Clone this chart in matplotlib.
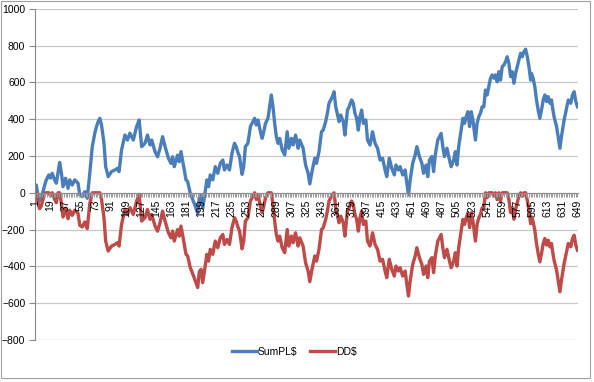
import matplotlib
matplotlib.use('Agg')
import matplotlib.pyplot as plt
from matplotlib.lines import Line2D
from matplotlib.patches import Rectangle

plt.rcParams.update({
    'font.family': 'Liberation Sans',
    'font.size': 7.5,
})

# ── Datos (categoría → valor) ─────────────────────────────────────────────────
CATS = [1, 2, 4, 6, 8, 10, 12, 14, 17, 19, 21, 24, 26, 28, 30, 32, 34, 37, 40,
        42, 45, 48, 52, 54, 57, 60, 63, 66, 69, 72, 74, 76, 78, 80, 83, 85, 88,
        92, 96, 99, 101, 104, 108, 111, 114, 118, 122, 125, 128, 132, 135, 138,
        140, 144, 147, 150, 153, 156, 160, 163, 165, 167, 171, 173, 175, 179,
        181, 183, 186, 189, 192, 195, 197, 199, 201, 204, 206, 208, 210, 213,
        216, 219, 222, 225, 227, 230, 233, 236, 239, 241, 243, 245, 248, 250,
        252, 255, 258, 260, 263, 265, 267, 270, 272, 274, 276, 279, 281, 283,
        285, 287, 289, 291, 293, 296, 299, 302, 304, 307, 309, 312, 315, 317,
        321, 324, 327, 329, 332, 335, 337, 340, 343, 345, 348, 350, 352, 356,
        358, 360, 364, 366, 369, 371, 374, 376, 379, 381, 383, 385, 387, 389,
        391, 393, 396, 398, 401, 404, 407, 410, 413, 416, 419, 421, 424, 427,
        430, 432, 435, 437, 440, 443, 445, 447, 449, 452, 455, 457, 460, 463,
        465, 468, 470, 472, 475, 477, 479, 482, 484, 486, 488, 490, 493, 496,
        498, 501, 503, 505, 507, 510, 512, 514, 516, 518, 520, 522, 524, 527,
        529, 531, 533, 535, 537, 539, 541, 543, 545, 547, 549, 551, 553, 555,
        557, 559, 561, 563, 565, 567, 569, 571, 573, 575, 577, 579, 581, 583,
        585, 587, 589, 591, 593, 594, 596, 598, 600, 602, 604, 606, 608, 610,
        612, 614, 616, 618, 619, 621, 624, 626, 628, 630, 633, 636, 638, 641,
        643, 645, 647, 649]

SUM_PL = [30, 42, -10, -45, -30, 6, 40, 70, 97, 80, 106, 70, 52, 110, 165, 110,
          33, 79, 24, 70, 42, 70, 52, -12, -21, 6, -30, 106, 251, 324, 360, 387,
          405, 370, 269, 142, 88, 115, 124, 133, 115, 233, 314, 287, 324, 287,
          360, 396, 251, 269, 314, 260, 287, 224, 196, 242, 305, 251, 188, 160,
          196, 142, 205, 169, 224, 124, 70, 61, 0, -36, -72, -111, -23, -12,
          -84, 6, 70, 33, 97, 70, 142, 106, 160, 178, 124, 151, 124, 215, 269,
          251, 220, 197, 100, 142, 251, 269, 360, 378, 405, 369, 396, 332, 296,
          332, 378, 405, 468, 532, 468, 378, 305, 269, 296, 233, 206, 332, 242,
          296, 260, 314, 242, 287, 242, 151, 106, 48, 124, 188, 160, 223, 332,
          341, 387, 432, 487, 523, 550, 468, 387, 423, 387, 314, 450, 468, 505,
          487, 432, 405, 341, 414, 450, 378, 396, 287, 260, 332, 269, 242, 178,
          188, 124, 88, 188, 133, 97, 151, 124, 142, 97, 124, 52, -12, 70, 160,
          206, 251, 197, 160, 106, 151, 88, 178, 197, 115, 206, 287, 305, 323,
          251, 197, 242, 178, 142, 178, 224, 151, 251, 342, 405, 378, 414, 441,
          360, 441, 396, 287, 378, 414, 432, 468, 468, 559, 532, 577, 623, 641,
          623, 641, 604, 659, 613, 686, 695, 713, 740, 704, 632, 659, 596, 650,
          686, 722, 759, 740, 768, 781, 740, 686, 613, 650, 623, 577, 505, 450,
          405, 450, 505, 532, 496, 523, 487, 505, 468, 414, 360, 300, 242, 310,
          396, 460, 505, 487, 532, 550, 496, 468]

DD = [0, 0, -52, -87, -72, -36, -2, 0, 0, -17, 0, -36, -54, 0, 0, -55, -132,
      -86, -141, -95, -123, -95, -113, -177, -186, -159, -195, -59, 0, 0, 0,
      0, 0, -35, -136, -263, -317, -290, -281, -272, -290, -172, -91, -118,
      -81, -118, -45, -9, -154, -136, -91, -145, -118, -181, -209, -163, -100,
      -154, -217, -245, -209, -263, -200, -236, -181, -281, -335, -344, -405,
      -441, -477, -516, -428, -417, -489, -399, -335, -372, -308, -335, -263,
      -299, -245, -227, -281, -254, -281, -190, -136, -154, -185, -208, -305,
      -263, -154, -136, -45, -27, 0, -36, -9, -73, -109, -73, -27, 0, 0, 0,
      -64, -154, -227, -263, -236, -299, -326, -200, -290, -236, -272, -218,
      -290, -245, -290, -381, -426, -484, -408, -344, -372, -309, -200, -191,
      -145, -100, -45, -9, 0, -82, -163, -127, -163, -236, -100, -82, -45,
      -63, -118, -145, -209, -136, -100, -172, -154, -263, -290, -218, -281,
      -308, -372, -362, -426, -462, -362, -417, -453, -399, -426, -408, -453,
      -426, -498, -562, -480, -390, -344, -299, -353, -390, -444, -399, -462,
      -372, -353, -435, -344, -263, -245, -227, -299, -353, -308, -372, -408,
      -372, -326, -399, -299, -208, -145, -172, -136, -109, -190, -109, -154,
      -263, -172, -136, -118, -82, -82, 0, -27, 0, 0, 0, -18, 0, -37, 0, -46,
      0, 0, 0, 0, -36, -108, -81, -144, -90, -54, -18, 0, -19, 0, 0, -41, -95,
      -168, -131, -158, -204, -276, -331, -376, -331, -276, -249, -285, -258,
      -294, -276, -313, -367, -421, -481, -539, -471, -385, -321, -276, -294,
      -249, -231, -285, -313]

N_CATS = 649
SERIES = ["SumPL$", "DD$"]
COLORS = {"SumPL$": "#4A7EBB", "DD$": "#BE4B48"}
Y_TICKS = list(range(-800, 1001, 200))
X_TICKS = list(range(1, N_CATS + 1, 18))


def main():
    fig = plt.figure(figsize=(5.94, 3.82), dpi=100)
    ax = fig.add_axes([0.0589, 0.1105, 0.914, 0.866])

    # Rejilla horizontal por debajo de las series
    for y in Y_TICKS:
        ax.axhline(y, color='#C8C8C8', linewidth=0.9, zorder=0)

    ax.plot(CATS, SUM_PL, color=COLORS["SumPL$"], linewidth=2.4,
            solid_joinstyle='round', zorder=2)
    ax.plot(CATS, DD, color=COLORS["DD$"], linewidth=2.4,
            solid_joinstyle='round', zorder=2)

    ax.set_xlim(0.5, N_CATS + 0.5)
    ax.set_ylim(-800, 1000)
    ax.set_axisbelow(False)

    ax.set_yticks(Y_TICKS)
    ax.tick_params(axis='y', length=4, width=0.8, color='#888888', pad=3)

    # Eje de categorías cruzando en 0
    ax.spines['bottom'].set_position(('data', 0))
    ax.spines['bottom'].set_color('#888888')
    ax.spines['bottom'].set_linewidth(0.8)
    ax.set_xticks(X_TICKS)
    ax.set_xticklabels([str(t) for t in X_TICKS], rotation=90)
    ax.set_xticks(list(range(1, N_CATS + 1, 2)), minor=True)
    ax.tick_params(axis='x', which='major', length=3, width=0.8,
                   color='#999999', pad=2)
    ax.tick_params(axis='x', which='minor', length=3, width=0.7,
                   color='#999999')

    ax.spines['left'].set_color('#888888')
    ax.spines['left'].set_linewidth(0.8)
    ax.spines['top'].set_visible(False)
    ax.spines['right'].set_visible(False)

    handles = [Line2D([], [], color=COLORS[s], linewidth=2.4) for s in SERIES]
    fig.legend(handles, SERIES, loc='center', bbox_to_anchor=(0.495, 0.079),
               ncol=2, frameon=False, handlelength=2.4, handletextpad=0.1,
               columnspacing=1.2, fontsize=7.5)

    # Borde del área del gráfico
    fig.patches.append(Rectangle((0.001, 0.01), 0.992, 0.988,
                                 transform=fig.transFigure, fill=False,
                                 edgecolor='#A0A0A0', linewidth=0.8))

    fig.savefig('out.png', dpi=100)
    plt.close(fig)


if __name__ == "__main__":
    main()
